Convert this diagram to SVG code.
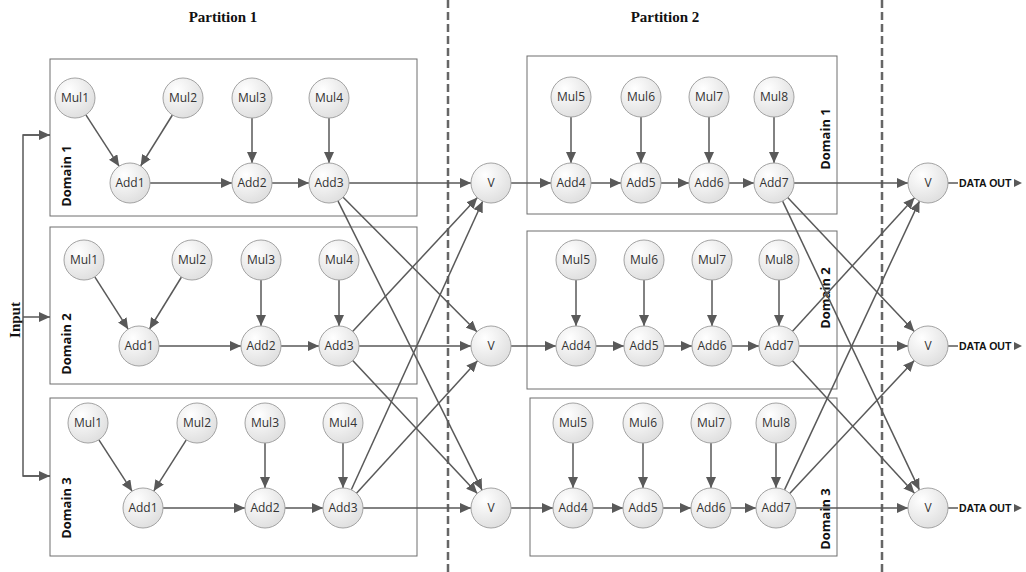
<svg xmlns="http://www.w3.org/2000/svg" width="1026" height="572" viewBox="0 0 1026 572">
<style>
.box{fill:none;stroke:#6e6e6e;stroke-width:1}
.nd{fill:url(#g);stroke:#a3a3a3;stroke-width:1}
.nt{font-family:"Open Sans",sans-serif;font-size:12px;fill:#333;text-anchor:middle}
.dl{font-family:"Open Sans",sans-serif;font-size:13px;font-weight:bold;fill:#111;text-anchor:middle}
.pt{font-family:"Liberation Serif",serif;font-size:15px;font-weight:bold;fill:#111;text-anchor:middle}
.do{font-family:"Liberation Sans",sans-serif;font-size:10.5px;font-weight:bold;fill:#111}
.e{stroke:#595959;stroke-width:1.5;fill:none;marker-end:url(#a)}
.dash{stroke:#666;stroke-width:2.5;stroke-dasharray:8 4;fill:none}
</style>
<defs>
<radialGradient id="g" cx="0.35" cy="0.3" r="0.8">
<stop offset="0" stop-color="#ffffff"/>
<stop offset="1" stop-color="#dcdcdc"/>
</radialGradient>
<marker id="a" markerUnits="userSpaceOnUse" markerWidth="12" markerHeight="10" refX="11" refY="5" orient="auto">
<path d="M0,0 L11,5 L0,10 z" fill="#595959"/>
</marker>
</defs>
<rect width="1026" height="572" fill="#fff"/>
<text class="pt" x="223" y="22">Partition 1</text>
<text class="pt" x="665" y="22">Partition 2</text>
<line class="dash" x1="448" y1="0" x2="448" y2="572"/>
<line class="dash" x1="882" y1="0" x2="882" y2="572"/>
<g id="boxes">
<rect class="box" x="50" y="59" width="367" height="157"/>
<rect class="box" x="50" y="227" width="367" height="157"/>
<rect class="box" x="50" y="398" width="367" height="158"/>
<rect class="box" x="527" y="56" width="310" height="158"/>
<rect class="box" x="527" y="231" width="310" height="158"/>
<rect class="box" x="530" y="398" width="307" height="158"/>
</g>
<g id="labels">
<text class="dl" transform="translate(70.5,176) rotate(-90)">Domain 1</text>
<text class="dl" transform="translate(70.5,344) rotate(-90)">Domain 2</text>
<text class="dl" transform="translate(70.5,508) rotate(-90)">Domain 3</text>
<text class="dl" transform="translate(830,139) rotate(-90)">Domain 1</text>
<text class="dl" transform="translate(830,298) rotate(-90)">Domain 2</text>
<text class="dl" transform="translate(830,519) rotate(-90)">Domain 3</text>
<text class="pt" transform="translate(20,320) rotate(-90)">Input</text>
</g>
<g id="connectors">
<path class="e" d="M50,135 H23 V476 H50" style="marker-end:none"/>
<line class="e" x1="23" y1="135" x2="50" y2="135"/>
<line class="e" x1="23" y1="317" x2="50" y2="317"/>
<line class="e" x1="23" y1="476" x2="50" y2="476"/>
<!-- P1 D1 -->
<line class="e" x1="85.9" y1="114.8" x2="119.1" y2="166.2"/>
<line class="e" x1="172.4" y1="115" x2="140.6" y2="166"/>
<line class="e" x1="252" y1="118" x2="252" y2="163"/>
<line class="e" x1="329" y1="118" x2="329" y2="163"/>
<line class="e" x1="150" y1="183" x2="232" y2="183"/>
<line class="e" x1="272" y1="183" x2="309" y2="183"/>
<!-- P1 D2 -->
<line class="e" x1="94.8" y1="276.8" x2="128.2" y2="329.2"/>
<line class="e" x1="181.5" y1="277" x2="149.5" y2="329"/>
<line class="e" x1="261" y1="280" x2="261" y2="326"/>
<line class="e" x1="339" y1="280" x2="339" y2="326"/>
<line class="e" x1="159" y1="346" x2="241" y2="346"/>
<line class="e" x1="281" y1="346" x2="319" y2="346"/>
<!-- P1 D3 -->
<line class="e" x1="98.9" y1="439.8" x2="132.1" y2="491.2"/>
<line class="e" x1="186.3" y1="439.9" x2="153.7" y2="491.1"/>
<line class="e" x1="265" y1="443" x2="265" y2="488"/>
<line class="e" x1="343" y1="443" x2="343" y2="488"/>
<line class="e" x1="163" y1="508" x2="245" y2="508"/>
<line class="e" x1="285" y1="508" x2="323" y2="508"/>
<!-- P1 -> V -->
<line class="e" x1="349" y1="183" x2="471" y2="183"/>
<line class="e" x1="343.1" y1="197.2" x2="476.9" y2="331.8"/>
<line class="e" x1="337.9" y1="200.9" x2="482.1" y2="490.1"/>
<line class="e" x1="352.6" y1="331.4" x2="477.4" y2="197.6"/>
<line class="e" x1="359" y1="346" x2="471" y2="346"/>
<line class="e" x1="352.7" y1="360.6" x2="477.3" y2="493.4"/>
<line class="e" x1="351.3" y1="489.8" x2="482.7" y2="201.2"/>
<line class="e" x1="356.5" y1="493.2" x2="477.5" y2="360.8"/>
<line class="e" x1="363" y1="508" x2="471" y2="508"/>
<!-- P2 D1 -->
<line class="e" x1="511" y1="183" x2="551" y2="183"/>
<line class="e" x1="591" y1="183" x2="621" y2="183"/>
<line class="e" x1="661" y1="183" x2="689" y2="183"/>
<line class="e" x1="729" y1="183" x2="754" y2="183"/>
<line class="e" x1="571" y1="117" x2="571" y2="163"/>
<line class="e" x1="641" y1="117" x2="641" y2="163"/>
<line class="e" x1="709" y1="117" x2="709" y2="163"/>
<line class="e" x1="774" y1="117" x2="774" y2="163"/>
<!-- P2 D2 -->
<line class="e" x1="511" y1="346" x2="556" y2="346"/>
<line class="e" x1="596" y1="346" x2="624" y2="346"/>
<line class="e" x1="664" y1="346" x2="692" y2="346"/>
<line class="e" x1="732" y1="346" x2="759" y2="346"/>
<line class="e" x1="576" y1="280" x2="576" y2="326"/>
<line class="e" x1="644" y1="280" x2="644" y2="326"/>
<line class="e" x1="712" y1="280" x2="712" y2="326"/>
<line class="e" x1="779" y1="280" x2="779" y2="326"/>
<!-- P2 D3 -->
<line class="e" x1="511" y1="508" x2="553" y2="508"/>
<line class="e" x1="593" y1="508" x2="623" y2="508"/>
<line class="e" x1="663" y1="508" x2="691" y2="508"/>
<line class="e" x1="731" y1="508" x2="756" y2="508"/>
<line class="e" x1="573" y1="443" x2="573" y2="488"/>
<line class="e" x1="643" y1="443" x2="643" y2="488"/>
<line class="e" x1="711" y1="443" x2="711" y2="488"/>
<line class="e" x1="776" y1="443" x2="776" y2="488"/>
<!-- P2 -> out V -->
<line class="e" x1="794" y1="183" x2="908" y2="183"/>
<line class="e" x1="787.7" y1="197.5" x2="914.3" y2="331.5"/>
<line class="e" x1="782.6" y1="201.1" x2="919.4" y2="489.9"/>
<line class="e" x1="792.5" y1="331.2" x2="914.5" y2="197.8"/>
<line class="e" x1="799" y1="346" x2="908" y2="346"/>
<line class="e" x1="792.5" y1="360.7" x2="914.5" y2="493.3"/>
<line class="e" x1="784.5" y1="489.9" x2="919.5" y2="201.1"/>
<line class="e" x1="789.7" y1="493.4" x2="914.3" y2="360.6"/>
<line class="e" x1="796" y1="508" x2="908" y2="508"/>
<!-- data out -->
<line x1="948" y1="183" x2="958" y2="183" stroke="#595959" stroke-width="1.5"/>
<line x1="948" y1="346" x2="958" y2="346" stroke="#595959" stroke-width="1.5"/>
<line x1="948" y1="508" x2="958" y2="508" stroke="#595959" stroke-width="1.5"/>
<path d="M1014,179 L1022,183 L1014,187 z" fill="#595959"/>
<path d="M1014,342 L1022,346 L1014,350 z" fill="#595959"/>
<path d="M1014,504 L1022,508 L1014,512 z" fill="#595959"/>
</g>
<g id="p1d1">
<circle class="nd" cx="75" cy="98" r="20"/><text class="nt" x="75" y="102.3">Mul1</text>
<circle class="nd" cx="183" cy="98" r="20"/><text class="nt" x="183" y="102.3">Mul2</text>
<circle class="nd" cx="252" cy="98" r="20"/><text class="nt" x="252" y="102.3">Mul3</text>
<circle class="nd" cx="329" cy="98" r="20"/><text class="nt" x="329" y="102.3">Mul4</text>
<circle class="nd" cx="130" cy="183" r="20"/><text class="nt" x="130" y="187.3">Add1</text>
<circle class="nd" cx="252" cy="183" r="20"/><text class="nt" x="252" y="187.3">Add2</text>
<circle class="nd" cx="329" cy="183" r="20"/><text class="nt" x="329" y="187.3">Add3</text>
</g>
<g id="p1d2">
<circle class="nd" cx="84" cy="260" r="20"/><text class="nt" x="84" y="264.3">Mul1</text>
<circle class="nd" cx="192" cy="260" r="20"/><text class="nt" x="192" y="264.3">Mul2</text>
<circle class="nd" cx="261" cy="260" r="20"/><text class="nt" x="261" y="264.3">Mul3</text>
<circle class="nd" cx="339" cy="260" r="20"/><text class="nt" x="339" y="264.3">Mul4</text>
<circle class="nd" cx="139" cy="346" r="20"/><text class="nt" x="139" y="350.3">Add1</text>
<circle class="nd" cx="261" cy="346" r="20"/><text class="nt" x="261" y="350.3">Add2</text>
<circle class="nd" cx="339" cy="346" r="20"/><text class="nt" x="339" y="350.3">Add3</text>
</g>
<g id="p1d3">
<circle class="nd" cx="88" cy="423" r="20"/><text class="nt" x="88" y="427.3">Mul1</text>
<circle class="nd" cx="197" cy="423" r="20"/><text class="nt" x="197" y="427.3">Mul2</text>
<circle class="nd" cx="265" cy="423" r="20"/><text class="nt" x="265" y="427.3">Mul3</text>
<circle class="nd" cx="343" cy="423" r="20"/><text class="nt" x="343" y="427.3">Mul4</text>
<circle class="nd" cx="143" cy="508" r="20"/><text class="nt" x="143" y="512.3">Add1</text>
<circle class="nd" cx="265" cy="508" r="20"/><text class="nt" x="265" y="512.3">Add2</text>
<circle class="nd" cx="343" cy="508" r="20"/><text class="nt" x="343" y="512.3">Add3</text>
</g>
<g id="vmid">
<circle class="nd" cx="491" cy="183" r="20"/><text class="nt" x="491" y="187.3">V</text>
<circle class="nd" cx="491" cy="346" r="20"/><text class="nt" x="491" y="350.3">V</text>
<circle class="nd" cx="491" cy="508" r="20"/><text class="nt" x="491" y="512.3">V</text>
</g>
<g id="p2d1">
<circle class="nd" cx="571" cy="97" r="20"/><text class="nt" x="571" y="101.3">Mul5</text>
<circle class="nd" cx="641" cy="97" r="20"/><text class="nt" x="641" y="101.3">Mul6</text>
<circle class="nd" cx="709" cy="97" r="20"/><text class="nt" x="709" y="101.3">Mul7</text>
<circle class="nd" cx="774" cy="97" r="20"/><text class="nt" x="774" y="101.3">Mul8</text>
<circle class="nd" cx="571" cy="183" r="20"/><text class="nt" x="571" y="187.3">Add4</text>
<circle class="nd" cx="641" cy="183" r="20"/><text class="nt" x="641" y="187.3">Add5</text>
<circle class="nd" cx="709" cy="183" r="20"/><text class="nt" x="709" y="187.3">Add6</text>
<circle class="nd" cx="774" cy="183" r="20"/><text class="nt" x="774" y="187.3">Add7</text>
</g>
<g id="p2d2">
<circle class="nd" cx="576" cy="260" r="20"/><text class="nt" x="576" y="264.3">Mul5</text>
<circle class="nd" cx="644" cy="260" r="20"/><text class="nt" x="644" y="264.3">Mul6</text>
<circle class="nd" cx="712" cy="260" r="20"/><text class="nt" x="712" y="264.3">Mul7</text>
<circle class="nd" cx="779" cy="260" r="20"/><text class="nt" x="779" y="264.3">Mul8</text>
<circle class="nd" cx="576" cy="346" r="20"/><text class="nt" x="576" y="350.3">Add4</text>
<circle class="nd" cx="644" cy="346" r="20"/><text class="nt" x="644" y="350.3">Add5</text>
<circle class="nd" cx="712" cy="346" r="20"/><text class="nt" x="712" y="350.3">Add6</text>
<circle class="nd" cx="779" cy="346" r="20"/><text class="nt" x="779" y="350.3">Add7</text>
</g>
<g id="p2d3">
<circle class="nd" cx="573" cy="423" r="20"/><text class="nt" x="573" y="427.3">Mul5</text>
<circle class="nd" cx="643" cy="423" r="20"/><text class="nt" x="643" y="427.3">Mul6</text>
<circle class="nd" cx="711" cy="423" r="20"/><text class="nt" x="711" y="427.3">Mul7</text>
<circle class="nd" cx="776" cy="423" r="20"/><text class="nt" x="776" y="427.3">Mul8</text>
<circle class="nd" cx="573" cy="508" r="20"/><text class="nt" x="573" y="512.3">Add4</text>
<circle class="nd" cx="643" cy="508" r="20"/><text class="nt" x="643" y="512.3">Add5</text>
<circle class="nd" cx="711" cy="508" r="20"/><text class="nt" x="711" y="512.3">Add6</text>
<circle class="nd" cx="776" cy="508" r="20"/><text class="nt" x="776" y="512.3">Add7</text>
</g>
<g id="vout">
<circle class="nd" cx="928" cy="183" r="20"/><text class="nt" x="928" y="187.3">V</text>
<circle class="nd" cx="928" cy="346" r="20"/><text class="nt" x="928" y="350.3">V</text>
<circle class="nd" cx="928" cy="508" r="20"/><text class="nt" x="928" y="512.3">V</text>
<text class="do" x="959" y="186.7">DATA OUT</text>
<text class="do" x="959" y="349.7">DATA OUT</text>
<text class="do" x="959" y="511.7">DATA OUT</text>
</g>
</svg>
